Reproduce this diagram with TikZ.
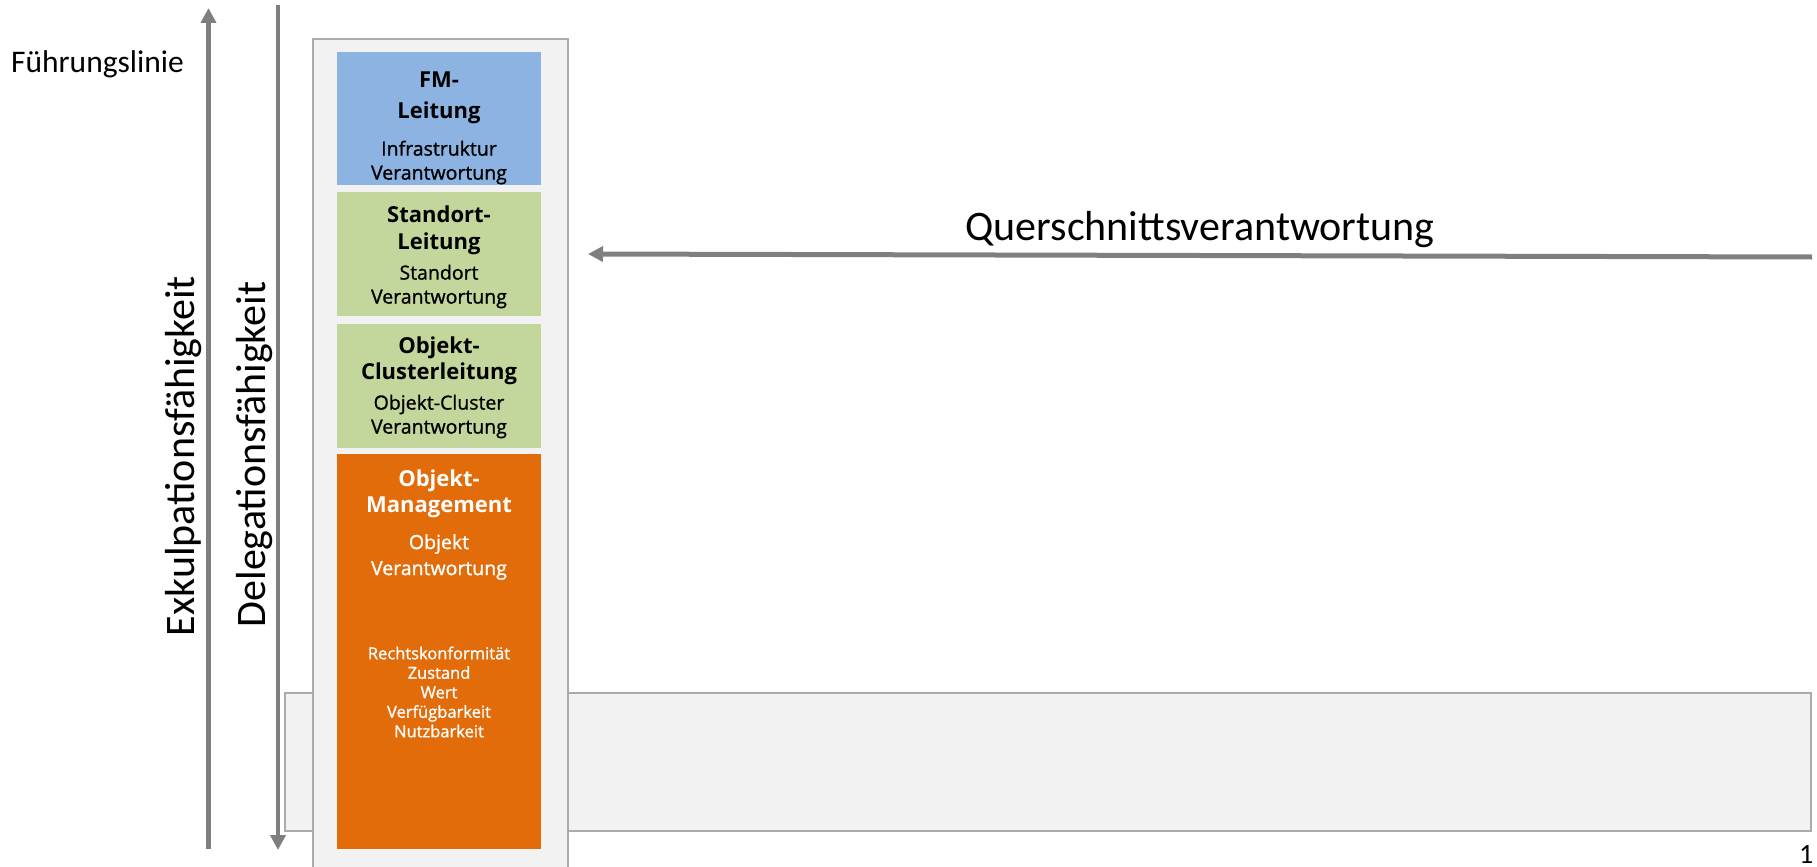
\documentclass[tikz,border=0pt]{standalone}
\usepackage{fontspec}
\setmainfont{Open Sans}
\newfontfamily\labelfont{Carlito}
\newfontfamily\semifont[FakeBold=1.1]{Open Sans}
\usetikzlibrary{arrows.meta}
\definecolor{fmblue}{HTML}{8DB3E2}
\definecolor{sitegreen}{HTML}{C3D69B}
\definecolor{objorange}{HTML}{E36C0A}
\definecolor{panelfill}{HTML}{F2F2F2}
\definecolor{panelline}{HTML}{ABABAB}
\definecolor{guidegray}{HTML}{7F7F7F}
\tikzset{
  panel/.style={fill=panelfill, draw=panelline, line width=2pt, inner sep=0pt},
  level/.style={inner sep=0pt, draw=none},
  ttl/.style={align=center, inner sep=0pt, font=\fontsize{22}{26.5}\selectfont\bfseries},
  subttl/.style={align=center, inner sep=0pt, font=\semifont\fontsize{19.5}{24}\selectfont},
  duties/.style={align=center, inner sep=0pt, text=white, font=\semifont\fontsize{16.5}{19.5}\selectfont},
  guide/.style={draw=guidegray, line width=4.5pt, -{Triangle[length=15pt,width=15pt]}},
  axislabel/.style={inner sep=0pt, rotate=90, font=\labelfont\fontsize{42}{48}\selectfont}
}
\begin{document}
\begin{tikzpicture}[x=1pt,y=-1pt]
\useasboundingbox (0,0) rectangle (1817,867);

% wide band behind the column
\node[panel, minimum width=1526pt, minimum height=138pt] (band) at (1048,762) {};

% column holding the levels
\node[panel, minimum width=255pt, minimum height=834pt] (column) at (440.5,456) {};

% levels
\node[level, fill=fmblue, minimum width=204pt, minimum height=133pt] (fm) at (439,118.5) {};
\node[level, fill=sitegreen, minimum width=204pt, minimum height=124pt] (site) at (439,254) {};
\node[level, fill=sitegreen, minimum width=204pt, minimum height=124pt] (cluster) at (439,386) {};
\node[level, fill=objorange, minimum width=204pt, minimum height=395pt] (obj) at (439,651.5) {};

% level texts
\node[ttl, font=\fontsize{22}{31}\selectfont\bfseries] (fmT) at (439,97.5) {FM-\\Leitung};
\node[subttl] (fmS) at (439,162.5) {Infrastruktur\\Verantwortung};
\node[ttl] (siteT) at (439,230.5) {Standort-\\Leitung};
\node[subttl] (siteS) at (439,286.5) {Standort\\Verantwortung};
\node[ttl] (clusterT) at (439,361) {Objekt-\\Clusterleitung};
\node[subttl] (clusterS) at (439,416.5) {Objekt-Cluster\\Verantwortung};
\node[ttl, text=white] (objT) at (439,494) {Objekt-\\Management};
\node[subttl, text=white, font=\semifont\fontsize{19.5}{26}\selectfont] (objS) at (439,557) {Objekt\\Verantwortung};
\node[duties] (objD) at (439,692) {Rechtskonformität\\Zustand\\Wert\\Verfügbarkeit\\Nutzbarkeit};

% vertical guides
\coordinate (exBot) at (208.5,849);
\coordinate (exTop) at (208.5,8);
\draw[guide] (exBot) -- (exTop);
\coordinate (deTop) at (278,5);
\coordinate (deBot) at (278,850);
\draw[guide] (deTop) -- (deBot);

\node[axislabel] (exk) at (184,456) {Exkulpationsfähigkeit};
\node[axislabel] (del) at (255,454.5) {Delegationsfähigkeit};

\node[anchor=base west, inner sep=0pt, font=\labelfont\fontsize{31.5}{36}\selectfont] (lead) at (11,73) {Führungslinie};

% cross-sectional responsibility
\coordinate (qsTail) at (1812,257);
\coordinate (qsTip) at (588,254);
\draw[guide, line width=5pt] (qsTail) -- (qsTip);
\node[anchor=base, inner sep=0pt, font=\labelfont\fontsize{42}{48}\selectfont] (qs) at (1200,240) {Querschnittsverantwortung};

% page number
\node[anchor=base west, inner sep=0pt, font=\labelfont\fontsize{28}{34}\selectfont] (pg) at (1799,863) {1};
\end{tikzpicture}
\end{document}
